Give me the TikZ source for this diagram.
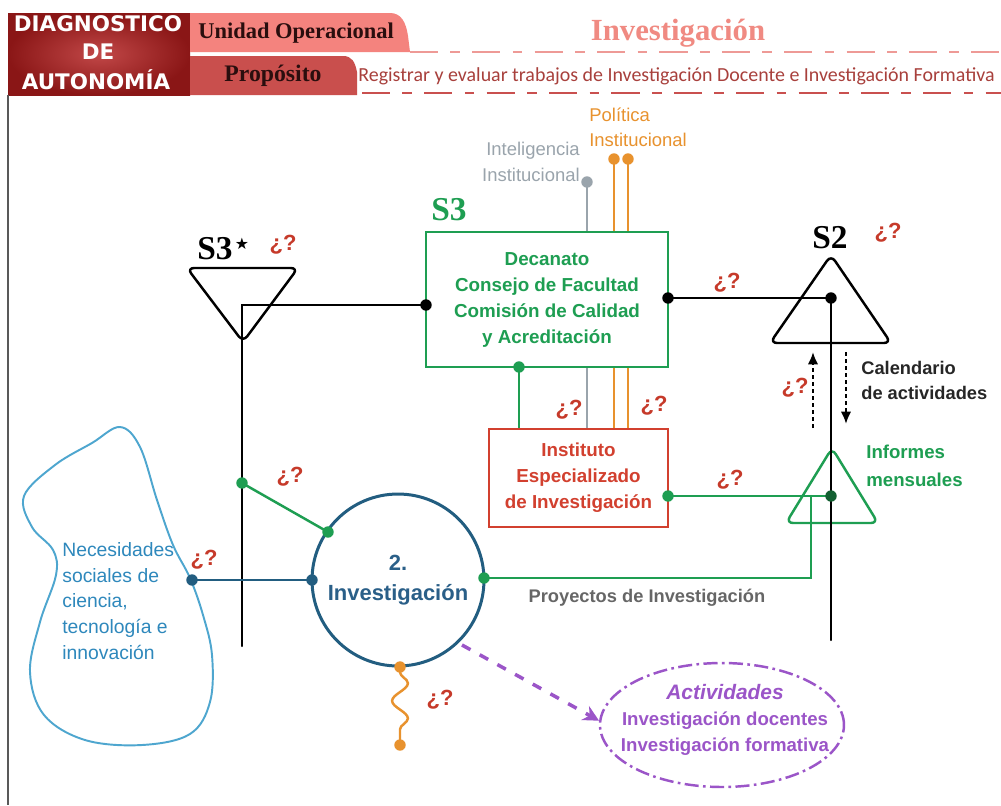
\documentclass[tikz,border=0pt]{standalone}
\usepackage{fontspec}
\setmainfont{Liberation Sans}
\newfontfamily\slabfont{Liberation Serif}
\newfontfamily\calibfont{Carlito}
\newfontfamily\heavyfont{DejaVu Sans}
\usetikzlibrary{arrows.meta,decorations.pathmorphing,shapes.geometric}

\definecolor{hdrdark}{HTML}{8A1616}
\definecolor{hdrlight}{HTML}{C24848}
\definecolor{tabpink}{HTML}{F4837E}
\definecolor{tabred}{HTML}{C94F4D}
\definecolor{tabtext}{HTML}{2A0E0E}
\definecolor{titlepink}{HTML}{F08A82}
\definecolor{purposered}{HTML}{A8403C}
\definecolor{dashpink}{HTML}{EE9A96}
\definecolor{dashred}{HTML}{C9504F}
\definecolor{sgreen}{HTML}{1E9E52}
\definecolor{ired}{HTML}{D2402F}
\definecolor{cblue}{HTML}{225D80}
\definecolor{cbluetext}{HTML}{2A5F88}
\definecolor{blobblue}{HTML}{4EA6CF}
\definecolor{blobtext}{HTML}{2E88BC}
\definecolor{iorange}{HTML}{E8922E}
\definecolor{igray}{HTML}{9AA4AC}
\definecolor{ipurple}{HTML}{9B55C8}
\definecolor{qred}{HTML}{C63A2A}
\definecolor{projgray}{HTML}{666666}

\pgfdeclarelayer{bg}
\pgfsetlayers{bg,main}

\begin{document}
\begin{tikzpicture}[x=0.02cm,y=-0.02cm,
  qmark/.style={text=qred,font=\bfseries\fontsize{12.5}{14}\selectfont,inner sep=0pt},
  dot/.style={circle,fill=#1,inner sep=0pt,minimum size=6.5pt},
  link/.style={line width=1.4pt,line cap=round},
  body/.style={font=\bfseries\fontsize{10.7}{14.8}\selectfont,align=center,inner sep=0pt},
  slabel/.style={font=\slabfont\bfseries\fontsize{19}{20}\selectfont,inner sep=0pt},
  tri/.style={line width=1.4pt,rounded corners=4pt,line join=round},
  tabtxt/.style={font=\slabfont\bfseries,text=tabtext,inner sep=0pt},
  hdrtxt/.style={font=\heavyfont\bfseries\fontsize{12.2}{14}\selectfont,text=white,inner sep=0pt}
]
\useasboundingbox (0,0) rectangle (1001,805);
\begin{pgfonlayer}{bg}
\fill[white] (0,0) rectangle (1001,805);
\end{pgfonlayer}

% ---------- header band ----------
\shade[inner color=hdrlight,outer color=hdrdark] (8,13) rectangle (190,95);
\fill[tabpink] (190,13) -- (390,13) .. controls (401,13) and (406,22) .. (408,36) -- (410,52) -- (190,52) -- cycle;
\fill[tabred] (190,56) -- (343,56) .. controls (352,56) and (355,62) .. (357,72) -- (357,95) -- (190,95) -- cycle;
\draw[gray!70!black,line width=0.6pt] (8,95) -- (8,805);

\node[hdrtxt] (hd1) at (98,24) {DIAGNOSTICO};
\node[hdrtxt] (hd2) at (98,52) {DE};
\node[hdrtxt] (hd3) at (96,80) {AUTONOMÍA};
\node[tabtxt,font=\slabfont\bfseries\fontsize{12.8}{14}\selectfont,anchor=west] (unidad) at (198,33) {Unidad Operacional};
\node[tabtxt,font=\slabfont\bfseries\fontsize{13.5}{15}\selectfont] (proposito) at (273,76) {Propósito};
\node[font=\slabfont\bfseries\fontsize{17.5}{19}\selectfont,text=titlepink,inner sep=0pt] (titulo) at (678,33) {Investigación};

\draw[dashpink,line width=1.6pt,dash pattern=on 16pt off 7pt on 5.5pt off 7pt] (410,52) -- (1001,52);
\node[font=\calibfont\fontsize{11.35}{13}\selectfont,text=purposered,anchor=west,inner sep=0pt] (proposal) at (358,76)
  {Registrar y evaluar trabajos de Investigación Docente e Investigación Formativa};
\draw[dashred,line width=1.6pt,dash pattern=on 16pt off 7pt on 5.5pt off 7pt] (362,93) -- (1001,93);

% ---------- main nodes ----------
\node[draw=sgreen,fill=white,line width=1.5pt,minimum width=4.84cm,minimum height=2.7cm,
      body,text=sgreen] (s3box) at (547,299.5)
  {Decanato\\Consejo de Facultad\\Comisión de Calidad\\y Acreditación};
\node[draw=ired,fill=white,line width=1.4pt,minimum width=3.58cm,minimum height=1.96cm,
      body,text=ired] (inst) at (578.5,478)
  {Instituto\\Especializado\\de Investigación};
\node[circle,draw=cblue,fill=white,line width=1.7pt,minimum size=3.44cm,
      font=\bfseries\fontsize{12.5}{17}\selectfont,text=cbluetext,align=center,inner sep=0pt] (inv) at (398,580)
  {2.\\Investigación};
\node[ellipse,draw=ipurple,line width=1.4pt,dash pattern=on 8pt off 2.5pt on 1.5pt off 2.5pt,
      minimum width=4.88cm,minimum height=2.48cm] (act) at (722,725) {};
\node[text=ipurple,font=\bfseries\fontsize{10.6}{15}\selectfont,align=center,inner sep=0pt] (acttxt) at (725,720)
  {{\itshape\fontsize{11.9}{15}\selectfont Actividades}\\Investigación docentes\\Investigación formativa};

% system triangles
\draw[tri] (187,268) -- (298,268) -- (243,342) -- cycle;
\draw[tri] (831,255) -- (891,343) -- (770,343) -- cycle;

% social needs region
\draw[blobblue,line width=1.1pt] plot[smooth cycle,tension=0.6] coordinates {
  (120,427) (92,443) (55,465) (24,496) (32,527) (53,550) (56,575) (40,622) (30,672)
  (44,715) (85,740) (142,745) (190,734) (210,702) (212,655) (203,615) (190,578)
  (173,545) (157,500) (140,447)};
\node[text=blobtext,font=\fontsize{11}{14.6}\selectfont,align=left,anchor=west,inner sep=0pt] (needs) at (62,601)
  {Necesidades\\sociales de\\ciencia,\\tecnología e\\innovación};

% ---------- junctions ----------
\node[dot=black] (jS3L) at (426,305) {};
\node[dot=black] (jS3R) at (668,298) {};
\node[dot=black] (jS2) at (831,298) {};
\node[dot=sgreen] (jS3B) at (519,367) {};
\node[dot=igray] (jgray) at (587,182) {};
\node[dot=iorange] (jor1) at (614,159) {};
\node[dot=iorange] (jor2) at (628,159) {};
\node[dot=sgreen] (jinst) at (668,496) {};
\node[dot=sgreen!60!black] (jinf) at (831,496) {};
\node[dot=sgreen] (jvert) at (242,483) {};
\node[dot=sgreen] (jcirc) at (328,532) {};
\node[dot=cblue] (jblob) at (192,580) {};
\node[dot=cblue] (jcircL) at (312,580) {};
\node[dot=sgreen] (jcircR) at (484,578) {};
\node[dot=iorange] (jsnA) at (400,667) {};
\node[dot=iorange] (jsnB) at (400,745) {};

\coordinate (s3bend) at (242,305);
\coordinate (s3foot) at (242,646);
\coordinate (s2foot) at (831,640);
\coordinate (projbend) at (811,578);
\coordinate (projtop) at (811,496);

% ---------- connectors (behind the boxes) ----------
\begin{pgfonlayer}{bg}
\draw[tri,sgreen] (832,448) -- (878,523) -- (786,523) -- cycle;
\draw[link] (jS3L.center) -- (s3bend) -- (s3foot);
\draw[link] (jS3R.center) -- (jS2.center) -- (s2foot);
\draw[link,sgreen] (jS3B.center) -- (jS3B.center |- inst.north);
\draw[igray,line width=1.4pt] (jgray.center) -- (jgray.center |- inst.north);
\draw[iorange,line width=1.4pt] (jor1.center) -- (jor1.center |- inst.north);
\draw[iorange,line width=1.4pt] (jor2.center) -- (jor2.center |- inst.north);
\draw[link,sgreen] (jinst.center) -- (jinf.center);
\draw[link,sgreen] (jcircR.center) -- (projbend) -- (projtop);
\draw[link,sgreen] (jvert.center) -- (jcirc.center);
\draw[link,cblue] (jblob.center) -- (jcircL.center);
\draw[iorange,line width=1.4pt,decorate,decoration={snake,amplitude=4.5pt,segment length=20pt,pre length=3pt,post length=3pt}]
  (jsnA.center) -- (jsnB.center);
\end{pgfonlayer}
\draw[line width=1.3pt,dash pattern=on 2.4pt off 1.6pt,-{Latex[length=7pt,width=6pt]}] (813,428) -- (813,352);
\draw[line width=1.3pt,dash pattern=on 2.4pt off 1.6pt,-{Latex[length=7pt,width=6pt]}] (846,352) -- (846,424);
\draw[ipurple,line width=2pt,dash pattern=on 5.5pt off 6pt,-{Stealth[length=9pt,width=9pt]}] (462,645) -- (act.178);

% ---------- labels ----------
\node[slabel] (s3s) at (215,249) {S3};
\node[font=\heavyfont\fontsize{9}{10}\selectfont,inner sep=0pt] (star) at (242,244) {★};
\node[slabel,text=sgreen] (s3lbl) at (449,210) {S3};
\node[slabel] (s2lbl) at (830,238) {S2};

\node[text=igray,font=\fontsize{10.5}{14.7}\selectfont,align=right,anchor=east,inner sep=0pt] (intel) at (580,162)
  {Inteligencia\\Institucional};
\node[text=iorange,font=\fontsize{10.5}{14.2}\selectfont,align=left,anchor=west,inner sep=0pt] (polit) at (589,127.5)
  {Política\\Institucional};
\node[font=\bfseries\fontsize{10.4}{14.2}\selectfont,align=left,anchor=west,inner sep=0pt,text=black!85] (cal) at (861,380.5)
  {Calendario\\de actividades};
\node[text=sgreen,font=\bfseries\fontsize{10.6}{15.9}\selectfont,align=left,anchor=west,inner sep=0pt] (inf) at (866,466)
  {Informes\\mensuales};
\node[text=projgray,font=\bfseries\fontsize{10.4}{12}\selectfont,inner sep=0pt] (proj) at (647,598)
  {Proyectos de Investigación};

\node[qmark] (q1) at (283,245) {¿?};
\node[qmark] (q2) at (888,233) {¿?};
\node[qmark] (q3) at (727,283) {¿?};
\node[qmark] (q4) at (795,388) {¿?};
\node[qmark] (q5) at (569,410) {¿?};
\node[qmark] (q6) at (654,406) {¿?};
\node[qmark] (q7) at (730,480) {¿?};
\node[qmark] (q8) at (290,477) {¿?};
\node[qmark] (q9) at (204,560) {¿?};
\node[qmark] (q10) at (440,700) {¿?};
\end{tikzpicture}
\end{document}
